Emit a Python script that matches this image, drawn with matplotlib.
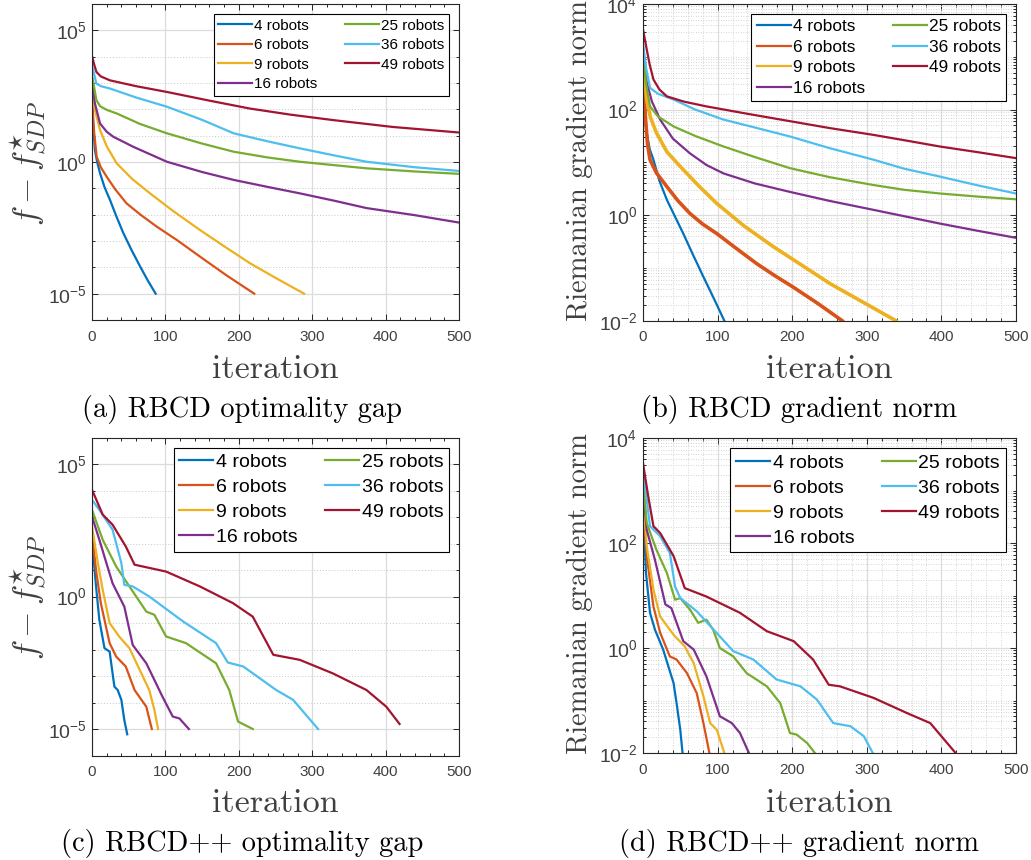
import numpy as np
import matplotlib
matplotlib.use("Agg")
import matplotlib.pyplot as plt
from matplotlib.font_manager import FontProperties
from matplotlib.ticker import FixedLocator, MultipleLocator, LogFormatterMathtext, NullFormatter

plt.rcParams["font.family"] = ["Liberation Sans", "DejaVu Sans"]
plt.rcParams["mathtext.fontset"] = "custom"
plt.rcParams["mathtext.rm"] = "Liberation Sans"
plt.rcParams["mathtext.default"] = "regular"

robots = [4, 6, 9, 16, 25, 36, 49]
colors = ["#0072BD", "#D95319", "#EDB120", "#7E2F8E", "#77AC30", "#4DBEEE", "#A2142F"]

# (a) RBCD optimality gap: iteration, log10(f - f*)
gap_rbcd_it = {
    4: [0, 2, 4, 7, 11, 17, 24.5, 33, 42.7, 54, 65.4, 76, 86.7],
    6: [0, 3, 6.4, 12, 20, 32, 47, 66, 88, 115, 147, 183, 221],
    9: [0, 4, 11, 20, 33.6, 55, 79, 110, 147, 180, 215, 250, 289],
    16: [0, 4, 11, 20, 29, 56, 102, 150, 193, 240, 283, 330, 374, 440, 500],
    25: [0, 6, 11, 20, 34, 65, 102, 150, 193, 240, 283, 330, 374, 440, 500],
    36: [0, 6, 12, 24.5, 60, 102, 150, 193, 240, 283, 330, 374, 440, 500],
    49: [0, 3, 6, 12, 24.5, 60, 102, 160, 215, 270, 329, 410, 500],
}
gap_rbcd_exp = {
    4: [2.2, 1.2, 0.45, 0.0, -0.43, -0.95, -1.44, -2.05, -2.70, -3.35, -3.96, -4.5, -5.0],
    6: [2.42, 1.1, 0.2, -0.2, -0.56, -1.05, -1.57, -2.0, -2.45, -2.95, -3.59, -4.3, -5.0],
    9: [2.73, 1.97, 1.21, 0.6, -0.05, -0.65, -1.19, -1.85, -2.58, -3.2, -3.84, -4.4, -5.0],
    16: [3.04, 2.22, 1.46, 1.15, 0.96, 0.58, 0.01, -0.38, -0.68, -0.95, -1.19, -1.47,
         -1.75, -2.02, -2.3],
    25: [3.3, 2.35, 2.12, 1.98, 1.84, 1.45, 1.09, 0.7, 0.39, 0.17, 0.01, -0.12, -0.24,
         -0.36, -0.45],
    36: [3.67, 2.98, 2.88, 2.79, 2.45, 2.1, 1.6, 1.09, 0.78, 0.52, 0.25, 0.01, -0.2, -0.34],
    49: [4.03, 3.7, 3.42, 3.25, 3.1, 2.88, 2.66, 2.33, 2.03, 1.8, 1.59, 1.33, 1.12],
}

# (b) RBCD gradient norm: iteration, log10(norm)
grad_rbcd_it = {
    4: [0, 2, 5, 9, 14, 22, 32, 43, 54, 67, 81, 95, 109],
    6: [0, 3, 6, 9.4, 18, 32, 47, 63, 80, 99, 125, 152.5, 177, 202, 235, 267],
    9: [0, 2, 5, 10, 18, 32, 50, 75, 99, 135, 175, 213, 251, 295, 339],
    16: [0, 5, 12, 23, 40, 63, 85, 108, 150, 197, 250, 309, 350, 398, 450, 500],
    25: [0, 4, 9.4, 20, 41, 70, 108, 150, 197, 250, 309, 350, 398, 450, 500],
    36: [0, 4, 9.4, 20, 41, 70, 108, 150, 197, 250, 309, 350, 398, 450, 500],
    49: [0, 5, 9, 14, 22, 32, 55, 85, 140, 197, 250, 309, 350, 398, 450, 500],
}
grad_rbcd_exp = {
    4: [2.6, 2.0, 1.56, 1.25, 1.05, 0.65, 0.29, -0.03, -0.35, -0.75, -1.17, -1.58, -2.0],
    6: [2.83, 1.9, 1.35, 1.05, 0.8, 0.54, 0.27, 0.03, -0.17, -0.35, -0.63, -0.92, -1.15,
        -1.37, -1.68, -2.0],
    9: [3.0, 2.6, 2.19, 1.85, 1.56, 1.2, 0.92, 0.55, 0.22, -0.2, -0.6, -0.95, -1.3, -1.65, -2.0],
    16: [3.08, 2.51, 2.15, 1.81, 1.45, 1.17, 0.95, 0.79, 0.6, 0.44, 0.27, 0.1, -0.02, -0.16,
         -0.3, -0.43],
    25: [3.14, 2.5, 2.06, 1.87, 1.68, 1.5, 1.3, 1.1, 0.89, 0.72, 0.57, 0.48, 0.41, 0.35, 0.3],
    36: [3.27, 2.8, 2.41, 2.3, 2.19, 2.0, 1.81, 1.66, 1.49, 1.27, 1.05, 0.88, 0.73, 0.56, 0.41],
    49: [3.52, 3.14, 2.85, 2.57, 2.38, 2.25, 2.15, 2.06, 1.92, 1.78, 1.65, 1.52, 1.42, 1.3,
         1.19, 1.08],
}

# (c) RBCD++ optimality gap
gap_pp_it = {
    4: [0, 5.5, 10, 17, 24, 30.5, 35, 40, 44, 48],
    6: [0, 5.5, 12, 24, 33, 46, 58, 74, 81.5],
    9: [0, 8, 14.6, 24, 37, 51, 65, 78, 85, 90],
    16: [0, 10, 28, 44, 55.5, 74, 96, 110, 119, 132],
    25: [0, 14.6, 33, 51, 74, 85, 101, 128, 169, 187, 199, 219],
    36: [0, 10, 28, 40, 44, 55.5, 78, 124, 169, 185, 206, 251, 274, 308],
    49: [0, 14.6, 28, 46, 58, 101, 147, 192, 219, 247, 283, 328, 374, 401, 419],
}
gap_pp_exp = {
    4: [2.14, 0.38, -0.88, -1.95, -2.08, -3.4, -3.53, -3.9, -4.66, -5.2],
    6: [2.39, 1.0, -0.25, -1.76, -2.27, -2.64, -3.53, -4.16, -5.0],
    9: [2.64, 1.26, 0.25, -1.0, -1.51, -1.95, -2.77, -3.53, -4.28, -5.0],
    16: [3.02, 2.14, 0.5, -0.38, -1.83, -2.52, -3.78, -4.53, -4.6, -5.0],
    25: [3.27, 2.14, 1.13, 0.38, -0.57, -0.69, -1.51, -1.76, -2.52, -3.53, -4.72, -5.0],
    36: [3.65, 3.27, 2.52, 1.26, 0.44, 0.38, 0.0, -0.94, -1.76, -2.49, -2.64, -3.53, -3.9, -5.0],
    49: [4.03, 3.09, 2.71, 1.89, 1.2, 0.94, 0.38, -0.25, -0.76, -2.2, -2.39, -2.9, -3.53,
         -4.16, -4.81],
}

# (d) RBCD++ gradient norm
grad_pp_it = {
    4: [0, 4, 9.4, 16, 27, 34, 41, 45, 50, 53],
    6: [0, 5, 14, 23, 36, 45, 59, 72, 81, 89],
    9: [0, 5, 14, 23, 41, 56, 68, 81, 90, 99, 109],
    16: [0, 5, 16, 30, 38, 54, 68, 85, 103, 119, 130, 142],
    25: [0, 5, 18, 32, 43, 50, 63, 74, 85, 94, 103, 121, 139, 166, 184, 197, 206, 220, 231],
    36: [0, 9.4, 23, 36, 43, 50, 72, 103, 121, 148, 179, 211, 233, 255, 278, 296, 308],
    49: [0, 7, 14, 23, 41, 56, 85, 130, 166, 202, 228, 249, 264, 309, 354, 385, 419],
}
grad_pp_exp = {
    4: [2.7, 1.43, 0.67, 0.35, -0.03, -0.35, -0.67, -1.05, -1.56, -2.0],
    6: [2.83, 1.75, 0.79, 0.29, -0.16, -0.22, -0.48, -0.86, -1.43, -2.0],
    9: [2.89, 1.94, 1.11, 0.6, 0.25, 0.03, -0.29, -0.92, -1.43, -1.56, -2.0],
    16: [3.08, 2.25, 1.68, 0.83, 0.76, 0.13, -0.03, -0.54, -1.3, -1.43, -1.62, -2.0],
    25: [3.2, 2.38, 1.87, 1.43, 0.92, 0.95, 0.73, 0.48, 0.54, 0.35, 0.0, -0.16, -0.48,
         -0.73, -1.05, -1.62, -1.65, -1.81, -2.01],
    36: [3.4, 2.32, 2.13, 1.81, 1.17, 0.95, 0.7, 0.22, -0.06, -0.22, -0.6, -0.73, -0.98,
         -1.43, -1.49, -1.68, -2.0],
    49: [3.52, 2.89, 2.32, 2.19, 1.75, 1.14, 0.98, 0.67, 0.32, 0.13, -0.22, -0.7, -0.73,
         -0.95, -1.24, -1.43, -2.0],
}

W, H = 1031, 860
AX_COLOR = "#262626"
TXT_GRAY = "#404040"


def px_rect(left, top, right, bottom):
    """Pixel box -> figure fraction rect"""
    return [left / W, 1 - bottom / H, (right - left) / W, (bottom - top) / H]


def style_axis(axis, lo, hi, majors, dense_grid):
    """MATLAB-like log axis with grid"""
    axis.set_yscale("log")
    axis.set_xlim(0, 500)
    axis.set_ylim(10.0 ** lo, 10.0 ** hi)
    axis.xaxis.set_major_locator(MultipleLocator(100))
    axis.xaxis.set_minor_locator(MultipleLocator(20))
    axis.yaxis.set_major_locator(FixedLocator([10.0 ** m for m in majors]))
    axis.yaxis.set_major_formatter(LogFormatterMathtext())
    if dense_grid:
        minors = [k * 10.0 ** e for e in range(lo, hi) for k in range(1, 10)]
    else:
        minors = [10.0 ** e for e in range(lo, hi + 1)]
    minors = [v for v in minors if not any(np.isclose(v, 10.0 ** m) for m in majors)]
    axis.yaxis.set_minor_locator(FixedLocator(minors))
    axis.yaxis.set_minor_formatter(NullFormatter())
    axis.tick_params(which="both", direction="in", top=True, right=True,
                     color=AX_COLOR, labelcolor=TXT_GRAY, width=0.7)
    axis.tick_params(which="major", length=4.5)
    axis.tick_params(which="minor", length=2.5)
    axis.tick_params(axis="x", pad=7, labelsize=11)
    axis.tick_params(axis="y", pad=4, labelsize=14)
    for spine in axis.spines.values():
        spine.set_color(AX_COLOR)
        spine.set_linewidth(0.8)
    axis.grid(True, which="major", color="#dcdcdc", linewidth=0.9, linestyle="-")
    if dense_grid:
        axis.grid(True, which="minor", color="#c8c8c8", linewidth=0.6, linestyle=(0, (1, 2)))
    else:
        axis.grid(True, which="minor", axis="y", color="#c8c8c8", linewidth=0.7,
                  linestyle=(0, (1, 2)))
    axis.set_axisbelow(True)


def draw(axis, iters, exps, thick=(), legend_size=11.0, row_gap=0.36):
    for r, c in zip(robots, colors):
        lw = 2.6 if r in thick else 1.6
        axis.plot(iters[r], 10.0 ** np.array(exps[r]), color=c, linewidth=lw,
                  label=f"{r} robots")
    fs_px = legend_size * 100 / 72
    leg = axis.legend(loc="upper right", bbox_to_anchor=(0.973, 0.968), borderaxespad=0,
                      ncol=2, fontsize=legend_size, handlelength=34 / fs_px,
                      handletextpad=0.12, columnspacing=28 / fs_px, labelspacing=row_gap,
                      borderpad=0.3, fancybox=False, framealpha=1, edgecolor="black")
    leg.get_frame().set_linewidth(0.8)
    for line in leg.get_lines():
        line.set_linewidth(1.6)


fig = plt.figure(figsize=(W / 100, H / 100), dpi=100)

ax_a = fig.add_axes(px_rect(92, 4, 459, 320))
style_axis(ax_a, -6, 6, [-5, 0, 5], False)
draw(ax_a, gap_rbcd_it, gap_rbcd_exp, legend_size=11, row_gap=0.36)

ax_b = fig.add_axes(px_rect(643, 4, 1016, 320.7))
style_axis(ax_b, -2, 4, [-2, 0, 2, 4], True)
draw(ax_b, grad_rbcd_it, grad_rbcd_exp, thick=(6, 9), legend_size=12.4, row_gap=0.31)

ax_c = fig.add_axes(px_rect(92, 437.5, 459, 755.5))
style_axis(ax_c, -6, 6, [-5, 0, 5], False)
draw(ax_c, gap_pp_it, gap_pp_exp, legend_size=14, row_gap=0.38)

ax_d = fig.add_axes(px_rect(643, 438, 1016, 753))
style_axis(ax_d, -2, 4, [-2, 0, 2, 4], True)
draw(ax_d, grad_pp_it, grad_pp_exp, legend_size=14, row_gap=0.38)


def fig_text(x, y, s, **kw):
    fig.text(x / W, 1 - y / H, s, **kw)


serif = dict(family="cmr10")
for xc, yb in [(275.5, 378), (829.5, 378), (275.5, 811.7), (829.5, 811.7)]:
    fig_text(xc, yb, "iteration", ha="center", va="baseline", fontsize=24.5,
             color=TXT_GRAY, **serif)

captions = ["(a) RBCD optimality gap", "(b) RBCD gradient norm",
            "(c) RBCD++ optimality gap", "(d) RBCD++ gradient norm"]
for s, (xc, yb) in zip(captions, [(241.7, 417.3), (799, 417.3), (241.7, 851.5), (799, 851.5)]):
    fig_text(xc, yb, s, ha="center", va="baseline", fontsize=20.4, color="black", **serif)

cm_prop = FontProperties(family="cmr10", size=24.5, math_fontfamily="cm")
for yc in (163, 597):
    fig_text(28, yc, r"$\mathit{f} - \mathit{f}^{\star}_{\mathit{SDP}}$", ha="center",
             va="center", rotation=90, color=TXT_GRAY, fontproperties=cm_prop)
for yc in (161, 594):
    fig_text(580, yc, "Riemanian gradient norm", ha="center", va="center", rotation=90,
             fontsize=20.6, color=TXT_GRAY, **serif)

fig.savefig("out.png", dpi=100)
